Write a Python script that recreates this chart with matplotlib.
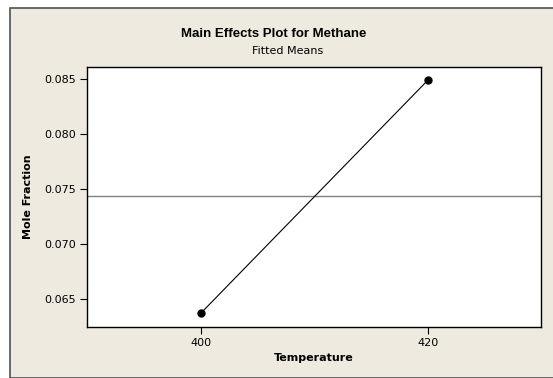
import matplotlib
matplotlib.use("Agg")
import matplotlib.pyplot as plt
from matplotlib import patches

# fitted means for each temperature level
temperature = [400, 420]
mole_fraction = [0.06372, 0.08491]
mean_level = sum(mole_fraction) / len(mole_fraction)

xticks = [400, 420]
yticks = [0.065, 0.070, 0.075, 0.080, 0.085]

plt.rcParams['font.family'] = ['DejaVu Sans']

W, H = 553, 378
fig = plt.figure(figsize=(W / 100, H / 100), dpi=100)
fig.patch.set_facecolor('white')

# beige panel with a dark frame on left, top and bottom
panel = patches.Rectangle((10 / W, 0.5 / H), 1.2, (377 - 7) / H,
                          transform=fig.transFigure, facecolor='#EEEAE0',
                          edgecolor='#505050', linewidth=1.2, zorder=-10)
fig.patches.append(panel)

ax = fig.add_axes([87 / W, (H - 326.5) / H, (541 - 87) / W, (326.5 - 67) / H])
ax.set_facecolor('white')

ax.axhline(mean_level, color='#808080', linewidth=1.0, zorder=1)
ax.plot(temperature, mole_fraction, color='black', linewidth=0.8,
        marker='o', markersize=5, zorder=2)

ax.set_xlim(389.9, 430)
ax.set_ylim(0.06246, 0.08612)
ax.set_xticks(xticks)
ax.set_xticklabels([str(t) for t in xticks])
ax.set_yticks(yticks)
ax.set_yticklabels(['%.3f' % v for v in yticks])
ax.tick_params(direction='out', length=5, width=0.8, labelsize=8,
               colors='black', pad=3)

for s in ax.spines.values():
    s.set_linewidth(1.0)
    s.set_color('black')

ax.set_xlabel('Temperature', fontsize=8, fontweight='bold', labelpad=4)
ax.set_ylabel('Mole Fraction', fontsize=8, fontweight='bold', labelpad=8)

fig.text(0.495, (H - 34) / H, 'Main Effects Plot for Methane', ha='center',
         va='center', fontsize=9.5, fontweight='bold',
         family=['Liberation Sans', 'DejaVu Sans'])
fig.text(0.52, (H - 51) / H, 'Fitted Means', ha='center', va='center',
         fontsize=8)

fig.savefig('out.png', dpi=100)
